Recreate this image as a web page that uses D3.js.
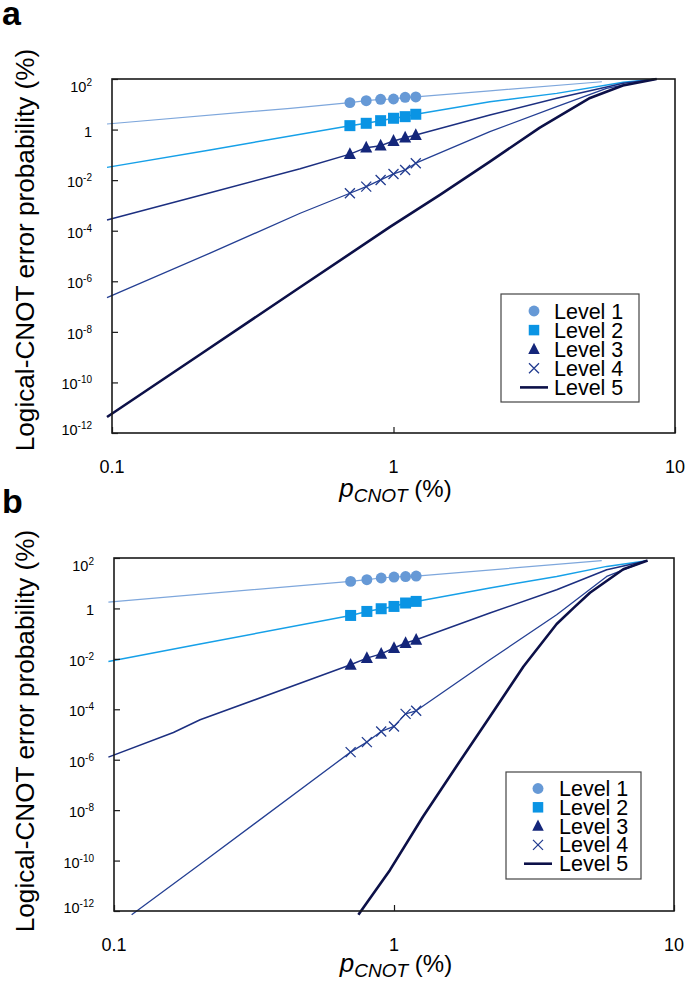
<!DOCTYPE html>
<html>
<head>
<meta charset="utf-8">
<script src="https://cdn.jsdelivr.net/npm/d3@7/dist/d3.min.js"></script>
<style>
  html, body { margin: 0; padding: 0; background: #fff; }
  svg { display: block; font-family: "Liberation Sans", Arial, Helvetica, sans-serif; }
</style>
</head>
<body>
<svg id="chart" width="688" height="984"></svg>
<script>
// ---------------- DATA ----------------
const levelNames = ["Level 1", "Level 2", "Level 3", "Level 4", "Level 5"];
const pMarkers = [0.7, 0.8, 0.9, 1.0, 1.1, 1.2];
const xTickValues = [0.1, 1, 10];
const xTickLabels = ["0.1", "1", "10"];
const yTickValues = [1e2, 1, 1e-2, 1e-4, 1e-6, 1e-8, 1e-10, 1e-12];
const yTickBase = ["10", "1", "10", "10", "10", "10", "10", "10"];
const yTickExp = ["2", "", "-2", "-4", "-6", "-8", "-10", "-12"];

// Panel a: [p_CNOT (%), logical error (%)]
const aLevel1 = [[0.096,1.66],[0.43,6.95],[0.7,11.6],[0.8,13.9],[0.9,15.7],[1.0,16.2],[1.1,18.9],[1.2,19.5],[2.2,34],[5.5,78]];
const aLevel2 = [[0.096,0.032],[0.223,0.156],[0.7,1.43],[0.8,1.77],[0.9,2.25],[1.0,2.8],[1.1,3.24],[1.2,4.03],[2.2,12.6],[3.8,27],[6.55,74],[8.6,100]];
const aLevel3 = [[0.096,2.67e-4],[0.223,3.2e-3],[0.466,2.8e-2],[0.7,0.107],[0.8,0.193],[0.9,0.231],[1.0,0.355],[1.1,0.479],[1.2,0.612],[2.2,3.78],[3.8,17.2],[6.55,68],[8.6,100]];
const aLevel4 = [[0.096,2.27e-7],[0.223,1.3e-5],[0.466,4.9e-4],[0.7,3.03e-3],[0.8,5.53e-3],[0.9,1.02e-2],[1.0,1.76e-2],[1.1,2.53e-2],[1.2,4.68e-2],[2.2,0.826],[3.8,8.04],[5.71,42.7],[7.7,83],[8.6,100]];
const aLevel5 = [[0.096,4.3e-12],[0.2056,1.27e-9],[0.4656,5.8e-7],[0.972,1.41e-4],[1.462,2.6e-3],[2.2,5.4e-2],[3.31,1.2],[4.99,17.8],[6.53,55],[8.6,100]];
const aMarks1 = [11.6,13.9,15.7,16.2,18.9,19.5];
const aMarks2 = [1.43,1.77,2.25,2.8,3.24,4.03];
const aMarks3 = [0.107,0.193,0.231,0.355,0.479,0.612];
const aMarks4 = [3.03e-3,5.53e-3,1.02e-2,1.76e-2,2.53e-2,4.68e-2];

// Panel b
const bLevel1 = [[0.0955,1.79],[0.7,11.8],[0.8,13.8],[0.9,16.1],[1.0,17.6],[1.1,18.4],[1.2,19.2],[5.52,78.2]];
const bLevel2 = [[0.0955,7.9e-3],[0.203,0.0386],[0.7,0.527],[0.8,0.76],[0.9,0.973],[1.0,1.2],[1.1,1.64],[1.2,1.9],[2.2,6.46],[3.81,18.6],[5.75,46.5],[8.0,78]];
const bLevel3 = [[0.0955,1.27e-6],[0.163,1.2e-5],[0.203,3.83e-5],[0.7,5.83e-3],[0.8,1.07e-2],[0.9,1.58e-2],[1.0,2.69e-2],[1.1,4.27e-2],[1.2,5.75e-2],[2.2,0.656],[3.81,5.52],[5.75,34.4],[8.0,78]];
const bLevel4 = [[0.1156,7.1e-13],[0.203,7.1e-11],[0.7,2.0e-6],[0.8,5.0e-6],[0.9,1.32e-5],[1.0,2.09e-5],[1.1,6.6e-5],[1.2,8.7e-5],[2.2,9.2e-3],[3.81,0.562],[5.75,18.6],[8.0,78]];
const bLevel5 = [[0.746,7.1e-13],[0.968,4.27e-11],[1.27,5.6e-9],[1.67,5.4e-7],[2.2,5.1e-5],[2.9,5.0e-3],[3.81,0.24],[4.4,1.1],[5.01,4.2],[6.59,36],[8.05,80]];
const bMarks1 = [11.8,13.8,16.1,17.6,18.4,19.2];
const bMarks2 = [0.527,0.76,0.973,1.2,1.64,1.9];
const bMarks3 = [5.83e-3,1.07e-2,1.58e-2,2.69e-2,4.27e-2,5.75e-2];
const bMarks4 = [2.0e-6,5.0e-6,1.32e-5,2.09e-5,6.6e-5,8.7e-5];

// ---------------- STYLE ----------------
const lineColors = ["#7ea7dc", "#16a0e8", "#1c2f80", "#243f93", "#0c1048"];
const markColors = ["#6699d6", "#0a94e4", "#14267a", "#223c90", "#0c1048"];
const lineWidths = [1.2, 1.5, 1.5, 1.3, 2.6];

const svg = d3.select("#chart");

function drawMarker(g, type, cx, cy, color, s) {
  if (type === 0) {
    g.append("circle").attr("cx", cx).attr("cy", cy).attr("r", s * 0.52).attr("fill", color);
  } else if (type === 1) {
    g.append("rect").attr("x", cx - s / 2).attr("y", cy - s / 2).attr("width", s).attr("height", s).attr("fill", color);
  } else if (type === 2) {
    const h = s * 1.0, w = s * 1.1;
    g.append("path")
      .attr("d", `M${cx},${cy - h * 0.62} L${cx + w / 2},${cy + h * 0.45} L${cx - w / 2},${cy + h * 0.45} Z`)
      .attr("fill", color);
  } else if (type === 3) {
    const d = s * 0.5;
    g.append("path")
      .attr("d", `M${cx - d},${cy - d} L${cx + d},${cy + d} M${cx - d},${cy + d} L${cx + d},${cy - d}`)
      .attr("stroke", color).attr("stroke-width", 1.3).attr("fill", "none");
  }
}

function panel(cfg) {
  const g = svg.append("g");
  const x = d3.scaleLog().domain([0.1, 10]).range([cfg.x0, cfg.x1]);
  const y = d3.scaleLog().domain([1e-12, 1e2]).range([cfg.y1, cfg.y0]);

  // lines
  const line = d3.line().x(d => x(d[0])).y(d => y(d[1]));
  cfg.lines.forEach((data, i) => {
    g.append("path").datum(data).attr("d", line)
      .attr("fill", "none").attr("stroke", lineColors[i])
      .attr("stroke-width", lineWidths[i]).attr("stroke-linejoin", "round");
  });
  // markers
  const sizes = [10.5, 11, 11, 10];
  cfg.marks.forEach((vals, i) => {
    vals.forEach((v, j) => drawMarker(g, i, x(pMarkers[j]), y(v), markColors[i], sizes[i]));
  });

  // frame
  g.append("rect").attr("x", cfg.x0).attr("y", cfg.y0)
    .attr("width", cfg.x1 - cfg.x0).attr("height", cfg.y1 - cfg.y0)
    .attr("fill", "none").attr("stroke", "#1a1a1a").attr("stroke-width", 1.6);

  // axes ticks (inward)
  const yAxis = d3.axisLeft(y).tickValues(yTickValues).tickSize(-6).tickFormat("");
  g.append("g").attr("transform", `translate(${cfg.x0},0)`).call(yAxis)
    .call(s => s.select(".domain").remove())
    .call(s => s.selectAll("line").attr("stroke", "#1a1a1a").attr("stroke-width", 1.2));
  const xAxis = d3.axisBottom(x).tickValues(xTickValues).tickSize(-6).tickFormat("");
  g.append("g").attr("transform", `translate(0,${cfg.y1})`).call(xAxis)
    .call(s => s.select(".domain").remove())
    .call(s => s.selectAll("line").attr("stroke", "#1a1a1a").attr("stroke-width", 1.2));

  // y tick labels
  yTickValues.forEach((v, i) => {
    let cy = y(v) + 2;
    cy = Math.max(cy, cfg.y0 + 8);
    cy = Math.min(cy, cfg.y1 - 3);
    const t = g.append("text").attr("x", cfg.x0 - 20).attr("y", cy + 5)
      .attr("text-anchor", "end").attr("font-size", 14.5).attr("fill", "#000");
    if (yTickExp[i] === "") {
      t.text(yTickBase[i]);
    } else {
      t.append("tspan").text(yTickBase[i]);
      t.append("tspan").attr("dy", -6).attr("font-size", 10).text(yTickExp[i]);
    }
  });
  // x tick labels
  xTickValues.forEach((v, i) => {
    g.append("text").attr("x", x(v)).attr("y", cfg.y1 + 39.5)
      .attr("text-anchor", "middle").attr("font-size", 18).attr("fill", "#000")
      .text(xTickLabels[i]);
  });

  // x axis title
  const xt = g.append("text").attr("x", (cfg.x0 + cfg.x1) / 2 + 2).attr("y", cfg.titleY)
    .attr("text-anchor", "middle").attr("fill", "#000");
  xt.append("tspan").attr("font-style", "italic").attr("font-size", 26).text("p");
  xt.append("tspan").attr("font-style", "italic").attr("font-size", 19).attr("dy", 5).text("CNOT");
  xt.append("tspan").attr("font-size", 24).attr("dy", -5).text(" (%)");

  // y axis title
  g.append("text")
    .attr("transform", `translate(34,${cfg.ytitleY}) rotate(-90)`)
    .attr("text-anchor", "middle").attr("font-size", 26.2).attr("fill", "#000")
    .text("Logical-CNOT error probability (%)");

  // panel letter
  g.append("text").attr("x", 2).attr("y", cfg.letterY)
    .attr("font-size", 34).attr("font-weight", "bold").attr("fill", "#000").text(cfg.letter);

  // legend
  const L = cfg.legend;
  g.append("rect").attr("x", L.x).attr("y", L.y).attr("width", L.w).attr("height", L.h)
    .attr("fill", "#fff").attr("stroke", "#444").attr("stroke-width", 1.2);
  levelNames.forEach((name, i) => {
    const cy = L.rowY + i * L.step;
    if (i < 4) {
      drawMarker(g, i, L.mx, cy, markColors[i], i === 3 ? 10 : 10.5);
    } else {
      g.append("line").attr("x1", L.mx - 14).attr("x2", L.mx + 14).attr("y1", cy).attr("y2", cy)
        .attr("stroke", markColors[4]).attr("stroke-width", 2.6);
    }
    g.append("text").attr("x", L.tx).attr("y", cy + 7.5).attr("font-size", 21.5)
      .attr("fill", "#000").text(name);
  });
}

panel({
  letter: "a", letterY: 25,
  x0: 112, x1: 675, y0: 79, y1: 433,
  titleY: 497, ytitleY: 250,
  lines: [aLevel1, aLevel2, aLevel3, aLevel4, aLevel5],
  marks: [aMarks1, aMarks2, aMarks3, aMarks4],
  legend: { x: 501, y: 294, w: 138, h: 108, rowY: 311, step: 19.1, mx: 534, tx: 554 }
});
panel({
  letter: "b", letterY: 513,
  x0: 114, x1: 674, y0: 558, y1: 911,
  titleY: 972, ytitleY: 731,
  lines: [bLevel1, bLevel2, bLevel3, bLevel4, bLevel5],
  marks: [bMarks1, bMarks2, bMarks3, bMarks4],
  legend: { x: 506, y: 772, w: 135, h: 107, rowY: 788.5, step: 18.8, mx: 538, tx: 559 }
});
</script>
</body>
</html>
